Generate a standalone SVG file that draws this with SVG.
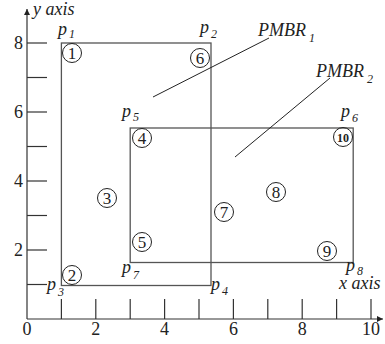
<svg xmlns="http://www.w3.org/2000/svg" width="385" height="344" viewBox="0 0 385 344">
<defs>
<style>
.ax{stroke:#333;stroke-width:1.2;fill:none}
.tk{stroke:#333;stroke-width:1.2}
.rect{fill:none;stroke:#555;stroke-width:1.3}
.lead{stroke:#222;stroke-width:1}
.cn circle{fill:none;stroke:#222;stroke-width:1}
</style>
<marker id="ah" markerWidth="8" markerHeight="8" refX="6" refY="3" orient="auto" markerUnits="userSpaceOnUse">
<path d="M0,0 L6,3 L0,6 Z" fill="#222"/>
</marker>
</defs>
<rect width="385" height="344" fill="#fff"/>
<g id="axes">
<line class="ax" x1="27" y1="319" x2="383" y2="319" marker-end="url(#ah)"/>
<line class="ax" x1="27" y1="319" x2="27" y2="9" marker-end="url(#ah)"/>
<g class="tk">
<line x1="61.4" y1="299" x2="61.4" y2="319"/>
<line x1="95.8" y1="299" x2="95.8" y2="319"/>
<line x1="130.2" y1="299" x2="130.2" y2="319"/>
<line x1="164.6" y1="299" x2="164.6" y2="319"/>
<line x1="199" y1="299" x2="199" y2="319"/>
<line x1="233.4" y1="299" x2="233.4" y2="319"/>
<line x1="267.8" y1="299" x2="267.8" y2="319"/>
<line x1="302.2" y1="299" x2="302.2" y2="319"/>
<line x1="336.6" y1="299" x2="336.6" y2="319"/>
<line x1="371" y1="299" x2="371" y2="319"/>
<line x1="27" y1="284.5" x2="47" y2="284.5"/>
<line x1="27" y1="250" x2="47" y2="250"/>
<line x1="27" y1="215.5" x2="47" y2="215.5"/>
<line x1="27" y1="181" x2="47" y2="181"/>
<line x1="27" y1="146.5" x2="47" y2="146.5"/>
<line x1="27" y1="112" x2="47" y2="112"/>
<line x1="27" y1="77.5" x2="47" y2="77.5"/>
<line x1="27" y1="43" x2="47" y2="43"/>
</g>
<g font-family="Liberation Serif, serif" font-size="18" fill="#222" text-anchor="middle">
<text x="27" y="335">0</text>
<text x="95.8" y="335">2</text>
<text x="164.6" y="335">4</text>
<text x="233.4" y="335">6</text>
<text x="302.2" y="335">8</text>
<text x="371" y="335">10</text>
</g>
<g font-family="Liberation Serif, serif" font-size="18" fill="#222" text-anchor="end">
<text x="23" y="256">2</text>
<text x="23" y="187">4</text>
<text x="23" y="118">6</text>
<text x="23" y="49">8</text>
</g>
<g font-family="Liberation Serif, serif" font-style="italic" font-size="18" fill="#222">
<text x="33" y="15">y axis</text>
<text x="339" y="289">x axis</text>
</g>
</g>
<g id="PMBR1">
<rect class="rect" x="61.4" y="43" width="149.6" height="242.5"/>
<text font-family="Liberation Serif, serif" font-style="italic" font-size="18" fill="#222" x="258" y="36">PMBR<tspan font-size="12" dx="3" dy="6">1</tspan></text>
</g>
<g id="PMBR2">
<rect class="rect" x="130.2" y="128" width="223" height="134.5"/>
<text font-family="Liberation Serif, serif" font-style="italic" font-size="18" fill="#222" x="316" y="77">PMBR<tspan font-size="12" dx="3" dy="6">2</tspan></text>
</g>
<g id="connectors">
<line class="lead" x1="269" y1="38" x2="153" y2="97"/>
<line class="lead" x1="330" y1="78" x2="235" y2="157"/>
</g>
<g id="points" font-family="Liberation Serif, serif" font-style="italic" font-size="18" fill="#222">
<text x="58" y="35">p<tspan font-size="12" dx="2" dy="3">1</tspan></text>
<text x="200" y="33">p<tspan font-size="12" dx="2" dy="5">2</tspan></text>
<text x="47" y="290">p<tspan font-size="12" dx="2" dy="6">3</tspan></text>
<text x="211" y="290">p<tspan font-size="12" dx="2" dy="5">4</tspan></text>
<text x="122" y="117">p<tspan font-size="12" dx="2" dy="4">5</tspan></text>
<text x="341" y="117">p<tspan font-size="12" dx="2" dy="5">6</tspan></text>
<text x="122" y="273">p<tspan font-size="12" dx="2" dy="6">7</tspan></text>
<text x="346" y="271">p<tspan font-size="12" dx="2" dy="4">8</tspan></text>
</g>
<g font-family="Liberation Serif, serif" font-size="17" fill="#222" text-anchor="middle">
<g id="n1" class="cn"><circle cx="72" cy="53" r="9.5"/><text x="72" y="59">1</text></g>
<g id="n2" class="cn"><circle cx="72" cy="275" r="9.5"/><text x="72" y="281">2</text></g>
<g id="n3" class="cn"><circle cx="107" cy="198" r="9.5"/><text x="107" y="204">3</text></g>
<g id="n4" class="cn"><circle cx="142" cy="138" r="9.5"/><text x="142" y="144">4</text></g>
<g id="n5" class="cn"><circle cx="142" cy="242" r="9.5"/><text x="142" y="248">5</text></g>
<g id="n6" class="cn"><circle cx="200" cy="58" r="9.5"/><text x="200" y="64">6</text></g>
<g id="n7" class="cn"><circle cx="224" cy="212" r="9.5"/><text x="224" y="218">7</text></g>
<g id="n8" class="cn"><circle cx="276" cy="192" r="9.5"/><text x="276" y="198">8</text></g>
<g id="n9" class="cn"><circle cx="327" cy="251" r="9.5"/><text x="327" y="257">9</text></g>
<g id="n10" class="cn"><circle cx="343" cy="137" r="9.5"/><text x="343" y="141.5" font-size="12" font-weight="bold">10</text></g>
</g>
</svg>
